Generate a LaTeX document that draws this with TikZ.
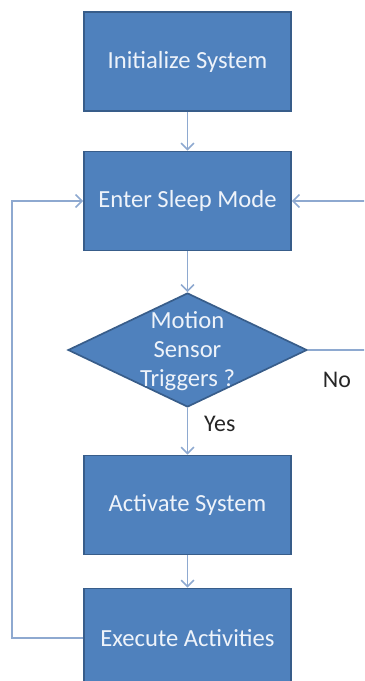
\documentclass[tikz,border=0pt]{standalone}
\usepackage{fontspec}
\setmainfont{Carlito}
\usetikzlibrary{shapes.geometric,arrows.meta}

\definecolor{boxblue}{HTML}{4F81BD}
\definecolor{boxedge}{HTML}{385D8A}
\definecolor{linkblue}{HTML}{8EA9D0}
\definecolor{boxtext}{HTML}{EEF3FA}

\tikzset{
    stepbox/.style={rectangle, draw=boxedge, fill=boxblue, line width=1.2pt,
        minimum width=5.175cm, minimum height=2.475cm, text=boxtext,
        font=\fontsize{17.5}{20.6}\selectfont},
    choice/.style={diamond, draw=boxedge, fill=boxblue, line width=1.2pt,
        minimum width=5.975cm, minimum height=2.85cm, inner sep=0pt},
    link/.style={draw=linkblue, line width=1.1pt,
        -{Straight Barb[length=1.6mm,width=3.2mm]}},
    answer/.style={text=black!85, font=\fontsize{17}{20.6}\selectfont}
}

\begin{document}
\begin{tikzpicture}[x=0.025cm,y=-0.025cm]

    % Page frame
    \useasboundingbox (0,0) rectangle (364,681);
    \clip (0,0) rectangle (364,681);

    % Process boxes
    \node[stepbox] (init) at (187.5,61.5) {Initialize System};
    \node[stepbox] (sleep) at (187.5,201) {Enter Sleep Mode};
    \node[stepbox] (act) at (187.5,505) {Activate System};
    \node[stepbox] (exec) at (187.5,638) {Execute Activities};

    % Decision
    \node[choice] (sensor) at (187.5,350) {};
    \node[text=boxtext, align=center, font=\fontsize{17.5}{20.6}\selectfont]
        (sensortext) at (187.5,351) {Motion\\Sensor\\Triggers ?};

    % Loop corners
    \coordinate (backleft) at (12,638);
    \coordinate (backright) at (374,350);

    % Straight links
    \draw[link] (init) -- (sleep);
    \draw[link] (sleep) -- (sensor);
    \draw[link] (sensor) -- (act) node[answer, pos=0.35, right=8pt] (yes) {Yes};
    \draw[link] (act) -- (exec);

    % Back to sleep
    \draw[link] (exec.west) -- (backleft) |- (sleep.west);
    \draw[link] (sensor.east) -- (backright) |- (sleep.east);
    \node[answer] (no) at (337,380) {No};

\end{tikzpicture}
\end{document}
